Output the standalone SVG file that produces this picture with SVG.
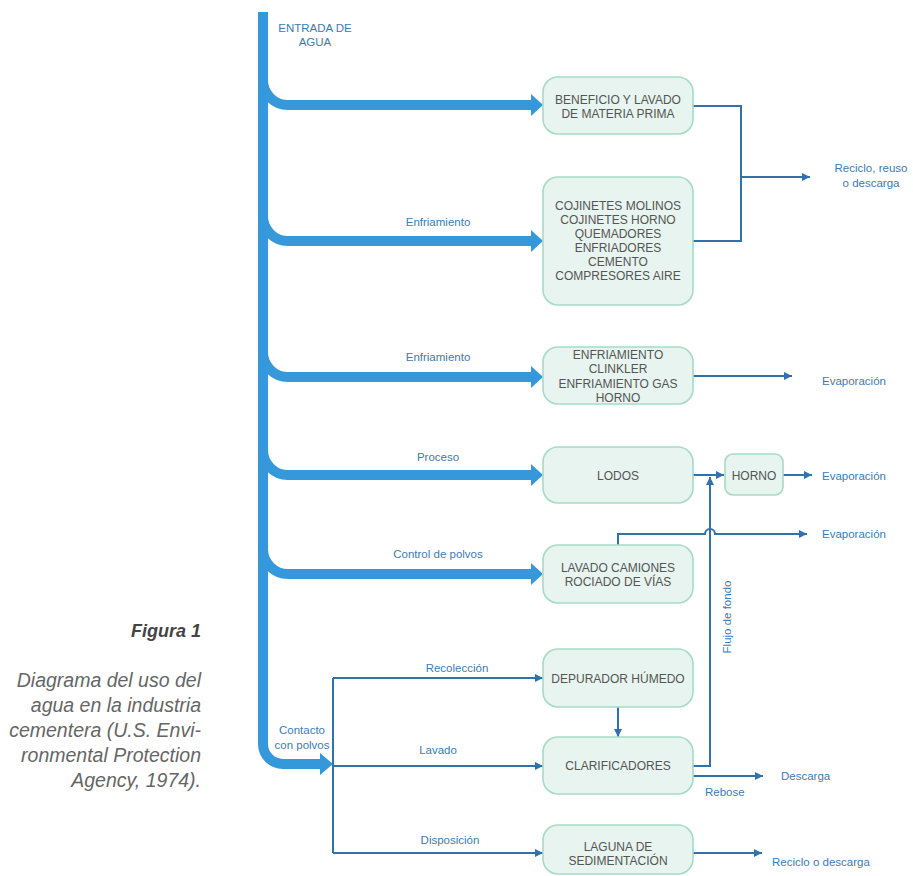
<svg xmlns="http://www.w3.org/2000/svg" width="913" height="876" viewBox="0 0 913 876">
<style>
.box{fill:#e7f4ef;stroke:#a6dbc6;stroke-width:1.6}
.bt{font-family:"Liberation Sans",Arial,sans-serif;font-size:12px;fill:#555;text-anchor:middle}
.lb{font-family:"Liberation Sans",Arial,sans-serif;font-size:11.5px;fill:#3b7bb8}
.mid{text-anchor:middle}
.thick{fill:none;stroke:#3498db;stroke-width:10}
.thin{fill:none;stroke:#2f72ae;stroke-width:2}
.head{fill:#3498db}
.cap{font-family:"Liberation Sans",Arial,sans-serif;font-style:italic;fill:#666;text-anchor:end;font-size:19.5px}
</style>
<defs>
<marker id="ah" markerUnits="userSpaceOnUse" markerWidth="9" markerHeight="8" refX="8" refY="4" orient="auto">
<path d="M0,0 L8,4 L0,8 Z" fill="#2f72ae"/>
</marker>
</defs>
<rect width="913" height="876" fill="#fff"/>

<g id="caption">
<text x="201" y="637" class="cap" style="font-weight:bold;fill:#444;font-size:18px">Figura 1</text>
<text x="201" y="687" class="cap">Diagrama del uso del</text>
<text x="201" y="712" class="cap">agua en la industria</text>
<text x="201" y="737" class="cap">cementera (U.S. Envi-</text>
<text x="201" y="762" class="cap">ronmental Protection</text>
<text x="201" y="787" class="cap">Agency, 1974).</text>
</g>

<g id="connectors">
<path class="thick" d="M263,12 L263,744 A20 20 0 0 0 283,764 L322,764"/>
<polygon class="head" points="320,753 333,764 320,775"/>
<path class="thick" d="M263,80 A25 25 0 0 0 288,105 L532,105"/>
<polygon class="head" points="531,94 543,105 531,116"/>
<path class="thick" d="M263,216 A25 25 0 0 0 288,241 L532,241"/>
<polygon class="head" points="531,230 543,241 531,252"/>
<path class="thick" d="M263,352 A25 25 0 0 0 288,377 L532,377"/>
<polygon class="head" points="531,366 543,377 531,388"/>
<path class="thick" d="M263,450 A25 25 0 0 0 288,475 L532,475"/>
<polygon class="head" points="531,464 543,475 531,486"/>
<path class="thick" d="M263,549 A25 25 0 0 0 288,574 L532,574"/>
<polygon class="head" points="531,563 543,574 531,585"/>

<path class="thin" d="M693,106 H741 V241 H693"/>
<path class="thin" d="M741,177 H810" marker-end="url(#ah)"/>
<path class="thin" d="M693,376 H792" marker-end="url(#ah)"/>
<path class="thin" d="M693,475 H724" marker-end="url(#ah)"/>
<path class="thin" d="M783,475 H812" marker-end="url(#ah)"/>
<path class="thin" d="M618,545 V534 H705 A5 5 0 0 1 715,534 H807" marker-end="url(#ah)"/>
<path class="thin" d="M693,766 H710 V477" marker-end="url(#ah)"/>
<path class="thin" d="M618,707 V737" marker-end="url(#ah)"/>
<path class="thin" d="M693,776 H763" marker-end="url(#ah)"/>
<path class="thin" d="M693,853 H762" marker-end="url(#ah)"/>
<path class="thin" d="M333,678 V853"/>
<path class="thin" d="M333,678 H543" marker-end="url(#ah)"/>
<path class="thin" d="M333,766 H543" marker-end="url(#ah)"/>
<path class="thin" d="M333,853 H543" marker-end="url(#ah)"/>
</g>

<g id="labels">
<text class="lb mid" x="315" y="32">ENTRADA DE</text>
<text class="lb mid" x="315" y="46">AGUA</text>
<text class="lb mid" x="438" y="226">Enfriamiento</text>
<text class="lb mid" x="438" y="361">Enfriamiento</text>
<text class="lb mid" x="438" y="461">Proceso</text>
<text class="lb mid" x="438" y="558">Control de polvos</text>
<text class="lb mid" x="457" y="672">Recolección</text>
<text class="lb mid" x="438" y="754">Lavado</text>
<text class="lb mid" x="450" y="844">Disposición</text>
<text class="lb mid" x="302" y="734">Contacto</text>
<text class="lb mid" x="302" y="749">con polvos</text>
<text class="lb mid" x="871" y="172">Reciclo, reuso</text>
<text class="lb mid" x="871" y="187">o descarga</text>
<text class="lb" x="822" y="385">Evaporación</text>
<text class="lb" x="822" y="480">Evaporación</text>
<text class="lb" x="822" y="538">Evaporación</text>
<text class="lb" x="781" y="780">Descarga</text>
<text class="lb" x="705" y="796">Rebose</text>
<text class="lb" x="772" y="866">Reciclo o descarga</text>
<text class="lb mid" transform="translate(731,617) rotate(-90)">Flujo de fondo</text>
</g>

<g id="n-beneficio">
<rect class="box" x="543" y="77" width="150" height="57" rx="15"/>
<text class="bt" x="618" y="103.5">BENEFICIO Y LAVADO</text>
<text class="bt" x="618" y="117.5">DE MATERIA PRIMA</text>
</g>
<g id="n-cojinetes">
<rect class="box" x="543" y="177" width="150" height="128" rx="15"/>
<text class="bt" x="618" y="209.5">COJINETES MOLINOS</text>
<text class="bt" x="618" y="223.5">COJINETES HORNO</text>
<text class="bt" x="618" y="237.5">QUEMADORES</text>
<text class="bt" x="618" y="251.5">ENFRIADORES</text>
<text class="bt" x="618" y="265.5">CEMENTO</text>
<text class="bt" x="618" y="279.5">COMPRESORES AIRE</text>
</g>
<g id="n-clinkler">
<rect class="box" x="543" y="347" width="150" height="57" rx="15"/>
<text class="bt" x="618" y="358.5">ENFRIAMIENTO</text>
<text class="bt" x="618" y="373">CLINKLER</text>
<text class="bt" x="618" y="387.5">ENFRIAMIENTO GAS</text>
<text class="bt" x="618" y="402">HORNO</text>
</g>
<g id="n-lodos">
<rect class="box" x="543" y="447" width="150" height="56" rx="15"/>
<text class="bt" x="618" y="480">LODOS</text>
</g>
<g id="n-horno">
<rect class="box" x="725" y="454" width="58" height="41" rx="8"/>
<text class="bt" x="754" y="479.5">HORNO</text>
</g>
<g id="n-lavado">
<rect class="box" x="543" y="545" width="150" height="58" rx="15"/>
<text class="bt" x="618" y="572">LAVADO CAMIONES</text>
<text class="bt" x="618" y="586">ROCIADO DE VÍAS</text>
</g>
<g id="n-depurador">
<rect class="box" x="543" y="649" width="150" height="58" rx="15"/>
<text class="bt" x="618" y="683">DEPURADOR HÚMEDO</text>
</g>
<g id="n-clarificadores">
<rect class="box" x="543" y="737" width="150" height="57" rx="15"/>
<text class="bt" x="618" y="770">CLARIFICADORES</text>
</g>
<g id="n-laguna">
<rect class="box" x="543" y="825" width="150" height="49" rx="15"/>
<text class="bt" x="618" y="851">LAGUNA DE</text>
<text class="bt" x="618" y="865">SEDIMENTACIÓN</text>
</g>
</svg>
